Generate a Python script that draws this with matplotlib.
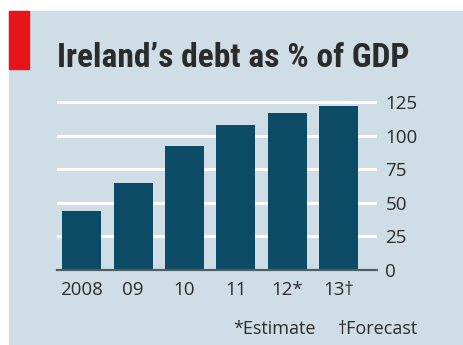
import matplotlib
matplotlib.use("Agg")
import matplotlib.pyplot as plt
from matplotlib import font_manager
from matplotlib.patches import Rectangle

# Data: Ireland's government debt, % of GDP
years = ["2008", "09", "10", "11", "12*", "13\u2020"]
debt = [44, 65, 92, 108, 117, 122]
yticks = [0, 25, 50, 75, 100, 125]

title = "Ireland\u2019s debt as % of GDP"
note_est = "*Estimate"
note_fc = "\u2020Forecast"

bg = "#cfdde6"
bar_col = "#0c4b66"
text_col = "#2b2b2b"

names = {f.name for f in font_manager.fontManager.ttflist}


def pick(cands):
    for c in cands:
        if c in names:
            return c
    return "DejaVu Sans"


title_font = pick(["Liberation Sans Narrow", "Roboto Condensed",
                   "Open Sans Condensed", "Lato", "Roboto"])
body_font = pick(["Open Sans", "Lato", "DejaVu Sans"])

W, H = 464, 345
fig = plt.figure(figsize=(W / 100, H / 100), dpi=100)
fig.patch.set_facecolor("white")

# Panel background and red tab
fig.add_artist(Rectangle((9 / W, 0), 1 - 9 / W, 1 - 11 / H,
                         transform=fig.transFigure, color=bg, zorder=0))
fig.add_artist(Rectangle((9 / W, 1 - 69 / H), 20 / W, 58 / H,
                         transform=fig.transFigure, color="#e8141c", zorder=1))

ttl = fig.text(57 / W, 1 - 67 / H, title, fontsize=21, fontweight="bold",
               family=title_font, color=text_col, va="baseline", ha="left")
# Fit the headline to span 57..409 px
renderer = fig.canvas.get_renderer()
w = ttl.get_window_extent(renderer).width
ttl.set_fontsize(21 * 352 / w)

# Axes area: x 57..377 px, y 0 at 270 px, 125 at 102 px
ax_left, ax_right = 57, 377
y0_px, y125_px = 270, 102
top_val = 130
px_per_unit = (y0_px - y125_px) / 125
ax_top_px = y0_px - top_val * px_per_unit
ax = fig.add_axes([ax_left / W, 1 - y0_px / H, (ax_right - ax_left) / W,
                   (y0_px - ax_top_px) / H])
ax.set_facecolor("none")
ax.set_ylim(0, top_val)
ax.set_xlim(-0.48, 5.75)

x = list(range(len(years)))
ax.bar(x, debt, width=0.76, color=bar_col, zorder=3)

for t in yticks[1:]:
    ax.axhline(t, color="white", lw=2.2, zorder=1)
ax.axhline(0, color="#4f5f68", lw=1.6, zorder=4, clip_on=False)

for s in ax.spines.values():
    s.set_visible(False)
ax.set_xticks(x)
ax.set_xticklabels(years)
ax.yaxis.tick_right()
ax.set_yticks(yticks)
ax.set_yticklabels([str(t) for t in yticks])
ax.tick_params(axis="both", length=0, labelsize=13.5, colors=text_col)
ax.tick_params(axis="y", pad=6)
ax.tick_params(axis="x", pad=8)
for lab in ax.get_xticklabels() + ax.get_yticklabels():
    lab.set_family(body_font)
    lab.set_color(text_col)

fig.text(316 / W, 1 - 329 / H, note_est, fontsize=13, family=body_font,
         color=text_col, ha="right", va="center")
fig.text(418 / W, 1 - 329 / H, note_fc, fontsize=13, family=body_font,
         color=text_col, ha="right", va="center")

fig.savefig("out.png", dpi=100, facecolor=fig.get_facecolor())
